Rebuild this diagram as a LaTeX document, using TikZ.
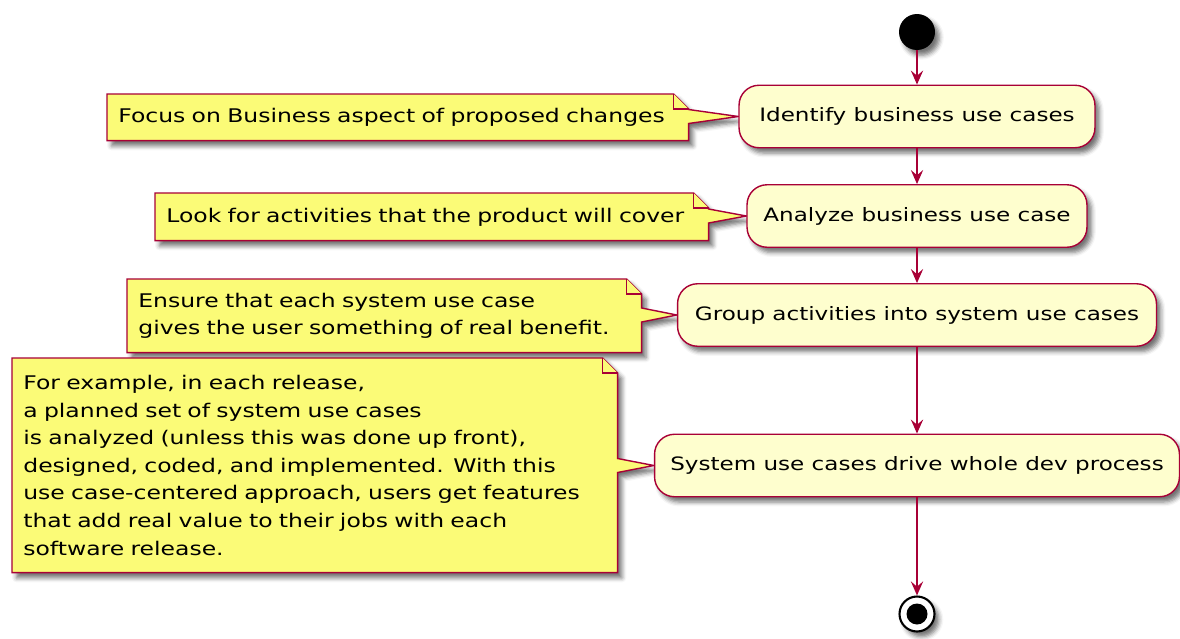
\documentclass[tikz,border=0pt]{standalone}
\usepackage{fontspec}
\newfontfamily\umlfont[FakeStretch=1.25]{DejaVu Sans}
\usetikzlibrary{%
    arrows.meta,%
    backgrounds,%
    calc,%
    positioning,%
    shadows.blur
}
\definecolor{umlred}{HTML}{A80036}
\definecolor{actfill}{HTML}{FEFECE}
\definecolor{notefill}{HTML}{FBFB77}

\tikzset{
    umlshadow/.style={blur shadow={shadow xshift=2.5pt,shadow yshift=-3pt,shadow blur radius=2.5pt,shadow opacity=55}},
    activity/.style={font=\umlfont\fontsize{10.5}{15.7}\selectfont,rounded corners=0.4cm,draw=umlred,fill=actfill,line width=0.8pt,umlshadow,minimum height=1.25cm,inner sep=0pt},
    note/.style={font=\umlfont\fontsize{10.7}{15.7}\selectfont,anchor=north west,align=left,inner xsep=0.22cm,inner ysep=0pt},
    noteline/.style={draw=umlred,fill=notefill,line width=0.8pt,line join=miter},
    flow/.style={draw=umlred,line width=0.9pt,-{Stealth[length=8pt,width=7pt,inset=3pt]}}
}

\begin{document}
\begin{tikzpicture}[x=0.02cm,y=-0.02cm]
    \useasboundingbox (0,0) rectangle (1180,639);
    % Size of the note corner fold and half width of the note pointer
    \pgfmathsetmacro{\fold}{15};
    \pgfmathsetmacro{\ptr}{7};

    % Start and end markers
    \node[circle,fill=black,minimum size=0.72cm,inner sep=0pt,umlshadow] (start) at (917,32) {};
    \node[circle,draw=black,line width=1.2pt,fill=white,minimum size=0.7cm,inner sep=0pt,umlshadow] (stop) at (917,614) {};
    \fill[black] (stop.center) circle (0.21cm);

    % Activities
    \node[activity,minimum width=7.12cm] (a1) at (917,116.5) {Identify business use cases};
    \node[activity,minimum width=6.8cm] (a2) at (917,216) {Analyze business use case};
    \node[activity,minimum width=9.58cm] (a3) at (917,315) {Group activities into system use cases};
    \node[activity,minimum width=10.5cm] (a4) at (917,465.5) {System use cases drive whole dev process};

    % Control flow
    \foreach \from/\to in {start/a1,a1/a2,a2/a3,a3/a4,a4/stop}
    {%
        \draw[flow] (\from) -- (\to);
    }

    % Notes, the outline goes below the text on the background layer
    \node[note,text width=11.18cm,minimum height=0.92cm] (n1) at (107,94) {Focus on Business aspect of proposed changes};
    \node[note,text width=10.62cm,minimum height=0.94cm] (n2) at (155,193) {Look for activities that the product will cover};
    \node[note,text width=9.84cm,minimum height=1.46cm] (n3) at (127,279) {Ensure that each system use case\\gives the user something of real benefit.};
    \node[note,text width=11.66cm,minimum height=4.28cm] (n4) at (12,358) {For example, in each release,\\a planned set of system use cases\\is analyzed (unless this was done up front),\\designed, coded, and implemented. With this\\use case-centered approach, users get features\\that add real value to their jobs with each\\software release.};

    \begin{scope}[on background layer]
    \foreach \n/\a in {n1/a1,n2/a2,n3/a3,n4/a4}
    {%
        \draw[noteline,umlshadow] (\n.north west) -- ($(\n.north east)+(-\fold,0)$) -- ($(\n.north east)+(0,\fold)$)
            -- ($(\n.east |- \a.west)+(0,-\ptr)$) -- (\a.west) -- ($(\n.east |- \a.west)+(0,\ptr)$)
            -- (\n.south east) -- (\n.south west) -- cycle;
        \draw[noteline] ($(\n.north east)+(-\fold,0)$) -- ($(\n.north east)+(-\fold,\fold)$) -- ($(\n.north east)+(0,\fold)$);
    }
    \end{scope}
\end{tikzpicture}
\end{document}
